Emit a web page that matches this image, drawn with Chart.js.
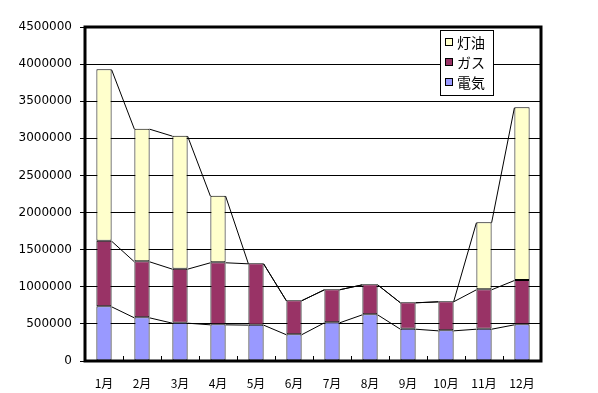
<!DOCTYPE html>
<html>
<head>
<meta charset="utf-8">
<script src="https://cdn.jsdelivr.net/npm/chart.js@4/dist/chart.umd.min.js"></script>
<style>
  body { margin: 0; background: #fff; }
  #energy { display: block; }
</style>
</head>
<body>
<canvas id="energy" width="598" height="393"></canvas>
<script>
// Monthly energy use
const months = ['1月', '2月', '3月', '4月', '5月', '6月', '7月', '8月', '9月', '10月', '11月', '12月'];
const denki = [737000, 588000, 516000, 494000, 490000, 360000, 521000, 629000, 435000, 413000, 435000, 494000];
const gasu = [884000, 755000, 728000, 836000, 826000, 458000, 445000, 404000, 356000, 391000, 531000, 597000];
const touyu = [2310000, 1787000, 1792000, 898000, 0, 0, 0, 0, 0, 0, 903000, 2327000];

const jpFont = "'Noto Sans CJK JP', 'DejaVu Sans', sans-serif";

// lines between the tops of each stack segment, like Excel series lines
const seriesLines = {
    id: 'seriesLines',
    afterDatasetsDraw(chart) {
        let ctx = chart.ctx;
        ctx.save();
        ctx.strokeStyle = '#000';
        ctx.lineWidth = 1;
        chart.data.datasets.forEach((ds, d) => {
            let bars = chart.getDatasetMeta(d).data;
            for (let i = 0; i < bars.length - 1; i++) {
                let a = bars[i], b = bars[i + 1];
                ctx.beginPath();
                ctx.moveTo(a.x + a.width / 2, a.y + 0.5);
                ctx.lineTo(b.x - b.width / 2, b.y + 0.5);
                ctx.stroke();
            }
        });

        // small ticks between months, pointing up
        let xs = chart.scales.x;
        let area = chart.chartArea;
        for (let i = 1; i < months.length; i++) {
            let px = Math.round((xs.getPixelForValue(i - 1) + xs.getPixelForValue(i)) / 2) + 0.5;
            ctx.beginPath();
            ctx.moveTo(px, area.bottom);
            ctx.lineTo(px, area.bottom - 5);
            ctx.stroke();
        }

        // frame
        ctx.lineWidth = 3;
        ctx.strokeRect(area.left, area.top, area.right - area.left, area.bottom - area.top);
        ctx.restore();
    }
};

// legend box inside the plot, reversed order
const boxLegend = {
    id: 'boxLegend',
    afterDraw(chart) {
        let ctx = chart.ctx;
        let x = 440, y = 30, w = 53, h = 65;
        ctx.save();
        ctx.fillStyle = '#fff';
        ctx.fillRect(x, y, w, h);
        ctx.strokeStyle = '#000';
        ctx.lineWidth = 1;
        ctx.strokeRect(x + 0.5, y + 0.5, w, h);
        ctx.font = '14px ' + jpFont;
        ctx.textBaseline = 'middle';
        let items = chart.data.datasets.slice().reverse();
        items.forEach((ds, i) => {
            let cy = y + 12 + i * 20;
            ctx.fillStyle = ds.backgroundColor;
            ctx.fillRect(x + 5, cy - 4, 8, 8);
            ctx.strokeRect(x + 5.5, cy - 3.5, 7, 7);
            ctx.fillStyle = '#000';
            ctx.fillText(ds.label, x + 17, cy + 1);
        });
        ctx.restore();
    }
};

let energyChart = new Chart(document.getElementById('energy'), {
    type: 'bar',
    data: {
        labels: months,
        datasets: [
            { label: '電気', data: denki, backgroundColor: '#9999FF' },
            { label: 'ガス', data: gasu, backgroundColor: '#993366' },
            { label: '灯油', data: touyu, backgroundColor: '#FFFFCC' }
        ].map(ds => Object.assign(ds, {
            borderColor: '#000',
            borderWidth: 1,
            borderSkipped: false,
            categoryPercentage: 1,
            barPercentage: 0.4
        }))
    },
    options: {
        responsive: false,
        animation: false,
        layout: { padding: { left: 0, top: 27, right: 57, bottom: 0 } },
        plugins: {
            legend: { display: false },
            tooltip: { enabled: false }
        },
        scales: {
            x: {
                stacked: true,
                afterFit(scale) { scale.height = 32; },
                grid: { display: false },
                border: { display: false },
                ticks: { color: '#000', padding: 7, font: { family: jpFont, size: 12 } }
            },
            y: {
                stacked: true,
                min: 0,
                max: 4500000,
                afterFit(scale) { scale.width = 85; },
                grid: { color: '#000', lineWidth: 1, tickLength: 5 },
                border: { display: false },
                ticks: {
                    stepSize: 500000,
                    color: '#000',
                    padding: 8,
                    font: { family: "'DejaVu Sans', sans-serif", size: 12 },
                    callback: v => String(v)
                }
            }
        }
    },
    plugins: [seriesLines, boxLegend]
});
</script>
</body>
</html>
